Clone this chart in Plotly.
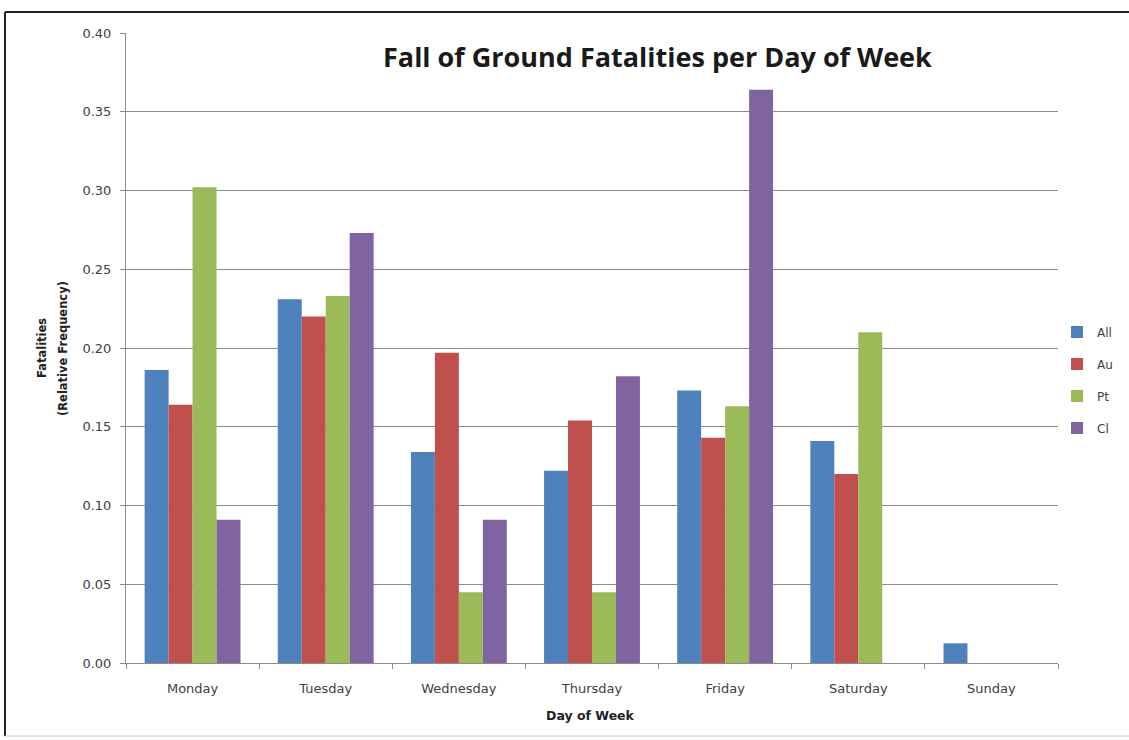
import plotly.graph_objects as go

days = ["Monday", "Tuesday", "Wednesday", "Thursday", "Friday", "Saturday", "Sunday"]
series_names = ["All", "Au", "Pt", "Cl"]
all_vals = [0.186, 0.231, 0.134, 0.122, 0.173, 0.141, 0.0125]
au_vals = [0.164, 0.220, 0.197, 0.154, 0.143, 0.120, 0.0]
pt_vals = [0.302, 0.233, 0.045, 0.045, 0.163, 0.210, 0.0]
cl_vals = [0.091, 0.273, 0.091, 0.182, 0.364, 0.0, 0.0]
colors = ["#4F81BD", "#C0504D", "#9BBB59", "#8064A2"]
y_ticks = [0.00, 0.05, 0.10, 0.15, 0.20, 0.25, 0.30, 0.35, 0.40]
y_tick_text = ["0.00", "0.05", "0.10", "0.15", "0.20", "0.25", "0.30", "0.35", "0.40"]

W, H = 1129, 740
L, R, T, B = 126, 1058, 33, 663


def px_x(p):
    return (p - L) / (R - L)


def px_y(p):
    return (B - p) / (B - T)


fig = go.Figure()
for name, vals, col in zip(series_names, [all_vals, au_vals, pt_vals, cl_vals], colors):
    fig.add_trace(go.Bar(x=days, y=vals, name=name, marker=dict(color=col, line=dict(width=0)),
                         legendgroup=name))

fig.update_layout(
    width=W, height=H,
    margin=dict(l=L, r=W - R, t=T, b=H - B, autoexpand=False),
    paper_bgcolor="white", plot_bgcolor="white",
    barmode="group", bargap=0.28, bargroupgap=0,
    font=dict(family="DejaVu Sans", size=12, color="#404040"),
    annotations=[
        dict(text="<b>Fall of Ground Fatalities per Day of Week</b>", x=px_x(657), y=px_y(57),
             xref="paper", yref="paper", showarrow=False, xanchor="center", yanchor="middle",
             font=dict(family="Open Sans", size=27, color="#1a1a1a")),
        dict(text="<b>Fatalities</b>", x=px_x(42), y=0.5,
             xref="paper", yref="paper", showarrow=False, textangle=-90,
             xanchor="center", yanchor="middle",
             font=dict(family="DejaVu Sans", size=11.5, color="#222222")),
        dict(text="<b>(Relative Frequency)</b>", x=px_x(63), y=0.5,
             xref="paper", yref="paper", showarrow=False, textangle=-90,
             xanchor="center", yanchor="middle",
             font=dict(family="DejaVu Sans", size=11.5, color="#222222")),
        dict(text="<b>Day of Week</b>", x=px_x(590), y=px_y(715),
             xref="paper", yref="paper", showarrow=False, xanchor="center", yanchor="middle",
             font=dict(family="DejaVu Sans", size=12.5, color="#222222")),
    ],
    legend=dict(x=px_x(1057), y=px_y(380), xanchor="left", yanchor="middle",
                font=dict(family="DejaVu Sans", size=12, color="#404040"),
                traceorder="grouped", tracegroupgap=13, bgcolor="rgba(0,0,0,0)",
                itemwidth=30),
    xaxis=dict(showline=True, linecolor="#8c8c8c", linewidth=1, ticks="outside",
               ticklen=5, tickcolor="#8c8c8c", showgrid=False,
               tickson="boundaries", tickfont=dict(size=13, color="#404040"),
               ticklabelstandoff=13),
    yaxis=dict(range=[0, 0.4], tickvals=y_ticks, ticktext=y_tick_text,
               showline=True, linecolor="#8c8c8c", linewidth=1, ticks="outside",
               ticklen=5, tickcolor="#8c8c8c", showgrid=True, gridcolor="#8c8c8c",
               gridwidth=1, zeroline=False, tickfont=dict(size=13, color="#404040"),
               ticklabelstandoff=6),
    shapes=[
        dict(type="line", xref="paper", yref="paper", x0=px_x(5), x1=px_x(1135),
             y0=px_y(12), y1=px_y(12), line=dict(color="#222222", width=2)),
        dict(type="line", xref="paper", yref="paper", x0=px_x(5), x1=px_x(5),
             y0=px_y(12), y1=px_y(736), line=dict(color="#222222", width=2)),
        dict(type="line", xref="paper", yref="paper", x0=px_x(5), x1=px_x(1135),
             y0=px_y(736), y1=px_y(736), line=dict(color="#cccccc", width=1)),
    ],
)

fig.write_html("out.html", config={"displayModeBar": False},
               post_script="document.body.style.margin='0';")
